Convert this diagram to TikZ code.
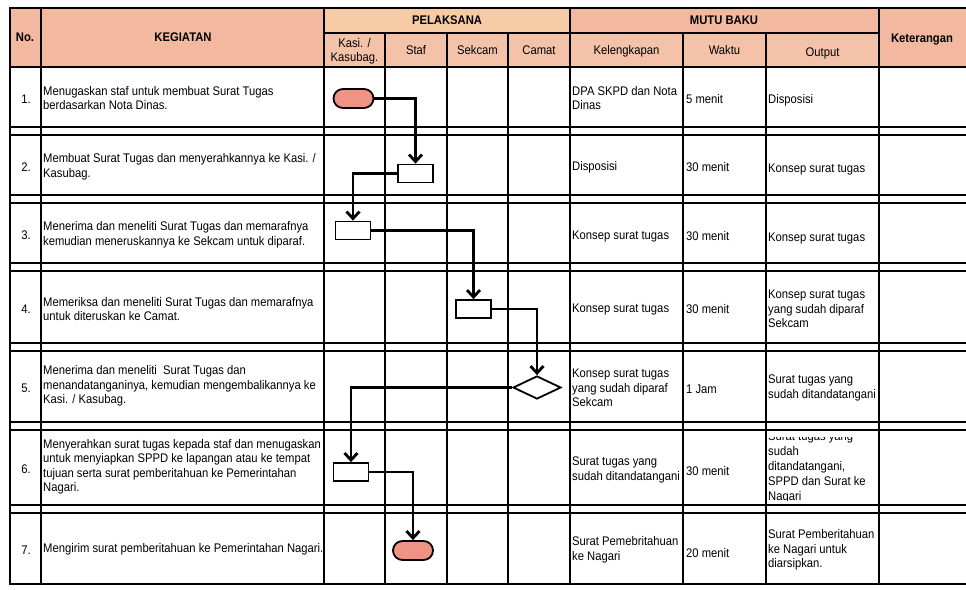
\documentclass[tikz,border=0pt]{standalone}
\usepackage{fontspec}
\setmainfont{Liberation Sans}[FakeStretch=0.9]
\usetikzlibrary{shapes.geometric,shapes.misc,arrows.meta}
\definecolor{hdrA}{HTML}{F2B9A0}
\definecolor{hdrB}{HTML}{F6CBA6}
\definecolor{hdrC}{HTML}{F4C2A8}
\definecolor{termfill}{HTML}{EF9484}
\begin{document}
\begin{tikzpicture}[x=1pt,y=-1pt,
  grid/.style={line width=2pt,line cap=rect},
  txt/.style={anchor=west,align=left,inner sep=0pt,font=\fontsize{12.5}{14.5}\selectfont},
  ctr/.style={anchor=center,align=center,inner sep=0pt,font=\fontsize{12.5}{14.5}\selectfont},
  hdr/.style={anchor=center,align=center,inner sep=0pt,font=\fontsize{12.5}{14}\selectfont\bfseries},
  sub/.style={anchor=center,align=center,inner sep=0pt,font=\fontsize{12.5}{14}\selectfont},
  actbox/.style={draw,line width=1.8pt,fill=white,minimum width=35pt,minimum height=18pt,inner sep=0pt},
  term/.style={draw,line width=1.8pt,fill=termfill,rounded rectangle,minimum width=40pt,minimum height=19pt,inner sep=0pt},
  decis/.style={draw,line width=1.8pt,fill=white,diamond,minimum width=48pt,minimum height=23pt,inner sep=0pt},
  flow/.style={line width=2.8pt,-{Straight Barb[length=7pt,width=13pt]}}
]
\useasboundingbox (0,0) rectangle (966,589);
\fill[white] (0,0) rectangle (966,589);

% header fills
\fill[hdrA] (10,8) rectangle (324,67);
\fill[hdrB] (324,8) rectangle (570,33);
\fill[hdrC] (324,33) rectangle (570,67);
\fill[hdrA] (570,8) rectangle (879,33);
\fill[hdrC] (570,33) rectangle (879,67);
\fill[hdrA] (879,8) rectangle (966,67);

% horizontal lines
\foreach \y in {8,67,127,135,195,203,263,271,343,351,422,430,505,513,584}
  \draw[grid] (10,\y) -- (966,\y);
\draw[grid] (324,33) -- (879,33);
% vertical lines
\foreach \x in {10,41,324,570,879}
  \draw[grid] (\x,8) -- (\x,584);
\foreach \x in {385,447,508,683,766}
  \draw[grid] (\x,33) -- (\x,584);

% header texts
\node[hdr] (hno) at (25,37) {No.};
\node[hdr] (hkeg) at (183,37) {KEGIATAN};
\node[hdr] (hpel) at (447,20) {PELAKSANA};
\node[sub] (hkasi) at (354.5,51) {Kasi. /\\Kasubag.};
\node[sub] (hstaf) at (416,50) {Staf};
\node[sub] (hsek) at (477.5,50) {Sekcam};
\node[sub] (hcam) at (539,50) {Camat};
\node[hdr] (hmutu) at (724,20) {MUTU BAKU};
\node[sub] (hkel) at (626.5,51) {Kelengkapan};
\node[sub] (hwak) at (724.5,50) {Waktu};
\node[sub] (hout) at (822.5,53) {Output};
\node[hdr] (hket) at (922,40) {Keterangan};

% numbers
\node[ctr] (no1) at (26,99) {1.};
\node[ctr] (no2) at (26,167) {2.};
\node[ctr] (no3) at (26,235) {3.};
\node[ctr] (no4) at (26,309) {4.};
\node[ctr] (no5) at (26,388) {5.};
\node[ctr] (no6) at (26,469) {6.};
\node[ctr] (no7) at (26,550) {7.};

% kegiatan
\node[txt] (k1) at (43,98) {Menugaskan staf untuk membuat Surat Tugas\\berdasarkan Nota Dinas.};
\node[txt] (k2) at (43,167) {Membuat Surat Tugas dan menyerahkannya ke Kasi. /\\Kasubag.};
\node[txt] (k3) at (43,235) {Menerima dan meneliti Surat Tugas dan memarafnya\\kemudian meneruskannya ke Sekcam untuk diparaf.};
\node[txt] (k4) at (43,309) {Memeriksa dan meneliti Surat Tugas dan memarafnya\\untuk diteruskan ke Camat.};
\node[txt] (k5) at (43,386) {Menerima dan meneliti\ \ Surat Tugas dan\\menandatanganinya, kemudian mengembalikannya ke\\Kasi. / Kasubag.};
\node[txt] (k6) at (43,467) {Menyerahkan surat tugas kepada staf dan menugaskan\\untuk menyiapkan SPPD ke lapangan atau ke tempat\\tujuan serta surat pemberitahuan ke Pemerintahan\\Nagari.};
\node[txt] (k7) at (43,549) {Mengirim surat pemberitahuan ke Pemerintahan Nagari.};

% kelengkapan
\node[txt] (l1) at (572,98) {DPA SKPD dan Nota\\Dinas};
\node[txt] (l2) at (572,167) {Disposisi};
\node[txt] (l3) at (572,236) {Konsep surat tugas};
\node[txt] (l4) at (572,309) {Konsep surat tugas};
\node[txt] (l5) at (572,388) {Konsep surat tugas\\yang sudah diparaf\\Sekcam};
\node[txt] (l6) at (572,470) {Surat tugas yang\\sudah ditandatangani};
\node[txt] (l7) at (572,550) {Surat Pemebritahuan\\ke Nagari};

% waktu
\node[txt] (w1) at (686,99) {5 menit};
\node[txt] (w2) at (686,167) {30 menit};
\node[txt] (w3) at (686,236) {30 menit};
\node[txt] (w4) at (686,309) {30 menit};
\node[txt] (w5) at (686,389) {1 Jam};
\node[txt] (w6) at (686,471) {30 menit};
\node[txt] (w7) at (686,553) {20 menit};

% output
\node[txt] (o1) at (768,100) {Disposisi};
\node[txt] (o2) at (768,169) {Konsep surat tugas};
\node[txt] (o3) at (768,238) {Konsep surat tugas};
\node[txt] (o4) at (768,309) {Konsep surat tugas\\yang sudah diparaf\\Sekcam};
\node[txt] (o5) at (768,388) {Surat tugas yang\\sudah ditandatangani};
\begin{scope}
  \clip (766,437) rectangle (879,500);
  \node[txt,font=\fontsize{12.5}{15}\selectfont] (o6) at (768,467) {Surat tugas yang\\sudah\\ditandatangani,\\SPPD dan Surat ke\\Nagari};
\end{scope}
\node[txt] (o7) at (768,550) {Surat Pemberitahuan\\ke Nagari untuk\\diarsipkan.};

% flow shapes
\node[term] (t1) at (353.5,98.5) {};
\node[actbox] (b2) at (415.5,173.5) {};
\node[actbox] (b3) at (353,230.5) {};
\node[actbox] (b4) at (473.5,309) {};
\node[decis] (d5) at (537,387.5) {};
\node[actbox] (b6) at (351,472) {};
\node[term] (t7) at (413,550.5) {};

% connectors
\draw[flow] (t1.east) -| (b2.north);
\draw[flow] (b2.west) -| (b3.north);
\draw[flow] (b3.east) -| (b4.north);
\draw[flow] (b4.east) -| (d5.north);
\draw[flow] (d5.west) -| (b6.north);
\draw[flow] (b6.east) -| (t7.north);
\end{tikzpicture}
\end{document}
